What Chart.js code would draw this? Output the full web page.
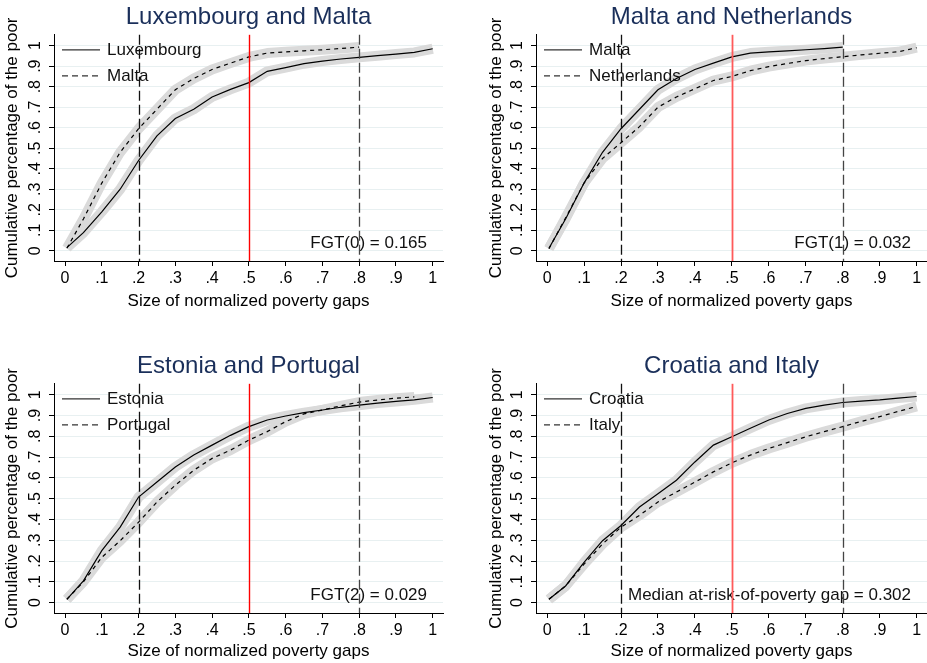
<!DOCTYPE html>
<html>
<head>
<meta charset="utf-8">
<script src="https://cdn.jsdelivr.net/npm/chart.js@4.4.1/dist/chart.umd.min.js"></script>
<style>
  html, body { margin: 0; padding: 0; background: #fff; }
  #wrap { position: relative; width: 927px; height: 663px; overflow: hidden; }
  .panel { position: absolute; }
</style>
</head>
<body>
<div id="wrap">
  <div class="panel" style="left:0;top:0"><canvas id="c1" width="464" height="320"></canvas></div>
  <div class="panel" style="left:464px;top:0"><canvas id="c2" width="463" height="320"></canvas></div>
  <div class="panel" style="left:0;top:330px"><canvas id="c3" width="464" height="333"></canvas></div>
  <div class="panel" style="left:464px;top:330px"><canvas id="c4" width="463" height="333"></canvas></div>
</div>
<script>
  // normalized poverty gap grid (x) shared by all curves
  const gapsX = [0.005, 0.05, 0.1, 0.15, 0.2, 0.25, 0.3, 0.35, 0.4, 0.45, 0.5,
    0.55, 0.6, 0.65, 0.7, 0.75, 0.8, 0.85, 0.9, 0.95, 1.0];

  // cumulative share of the poor
  const luxembourg = [0.015, 0.088, 0.19, 0.30, 0.44, 0.56, 0.645, 0.69, 0.75, 0.787, 0.82,
    0.875, 0.893, 0.912, 0.925, 0.935, 0.943, 0.951, 0.959, 0.967, 0.985];
  const malta = [0.012, 0.155, 0.33, 0.48, 0.595, 0.69, 0.785, 0.84, 0.884, 0.915, 0.945,
    0.964, 0.97, 0.975, 0.98, 0.986, 0.993, null, null, null, null];
  const netherlands = [0.01, 0.16, 0.33, 0.45, 0.527, 0.605, 0.7, 0.75, 0.79, 0.83, 0.85,
    0.878, 0.898, 0.913, 0.927, 0.937, 0.946, 0.955, 0.963, 0.97, 0.99];
  const estonia = [0.016, 0.105, 0.25, 0.363, 0.508, 0.58, 0.653, 0.71, 0.758, 0.805, 0.847,
    0.879, 0.898, 0.914, 0.927, 0.94, 0.95, 0.96, 0.968, 0.976, 0.987];
  const portugal = [0.016, 0.1, 0.218, 0.298, 0.387, 0.484, 0.565, 0.637, 0.694, 0.734, 0.782,
    0.823, 0.871, 0.908, 0.927, 0.947, 0.965, 0.975, 0.984, 0.99, null];
  const croatia = [0.016, 0.08, 0.194, 0.298, 0.371, 0.46, 0.524, 0.589, 0.677, 0.758, 0.798,
    0.839, 0.879, 0.91, 0.935, 0.95, 0.963, 0.97, 0.976, 0.984, 0.992];
  const italy = [0.016, 0.08, 0.185, 0.282, 0.363, 0.42, 0.484, 0.532, 0.58, 0.629, 0.673,
    0.71, 0.742, 0.77, 0.798, 0.823, 0.847, 0.872, 0.895, 0.92, 0.944];

  const tickValues = [0, 0.1, 0.2, 0.3, 0.4, 0.5, 0.6, 0.7, 0.8, 0.9, 1];
  const tickLabels = ["0", ".1", ".2", ".3", ".4", ".5", ".6", ".7", ".8", ".9", "1"];
  const refGaps = [0.2, 0.5, 0.8];

  const panelTitles = ["Luxembourg and Malta", "Malta and Netherlands", "Estonia and Portugal", "Croatia and Italy"];
  const panelNotes = ["FGT(0) = 0.165", "FGT(1) = 0.032", "FGT(2) = 0.029", "Median at-risk-of-poverty gap = 0.302"];
  const xTitle = "Size of normalized poverty gaps";
  const yTitle = "Cumulative percentage of the poor";

  const FONT = '"Liberation Sans", Arial, sans-serif';
  Chart.defaults.font.family = FONT;
  Chart.defaults.color = "#000";

  function toPoints(series) {
    return gapsX
      .map((x, i) => ({ x, y: series[i] }))
      .filter((p) => p.y !== null);
  }

  const overlayPlugin = {
    id: "overlay",
    afterDatasetsDraw(chart, args, opts) {
      const { ctx, chartArea: a } = chart;
      const x = chart.scales.x;
      ctx.save();

      // legend inside the plot
      opts.names.forEach((name, i) => {
        const y = a.top + 15 + i * 26;
        ctx.strokeStyle = "#333";
        ctx.lineWidth = 1.3;
        ctx.setLineDash(i ? [6, 4] : []);
        ctx.beginPath();
        ctx.moveTo(a.left + 8, y);
        ctx.lineTo(a.left + 46, y);
        ctx.stroke();
        ctx.setLineDash([]);
        ctx.fillStyle = "#111";
        ctx.font = "17px " + FONT;
        ctx.textAlign = "left";
        ctx.textBaseline = "middle";
        ctx.fillText(name, a.left + 53, y + 1);
      });

      ctx.textAlign = "right";
      ctx.fillText(opts.note, a.right - 16, a.bottom - 18);

      // reference lines
      refGaps.forEach((g, i) => {
        const px = Math.round(x.getPixelForValue(g)) + 0.5;
        ctx.beginPath();
        if (i === 1) {
          ctx.strokeStyle = opts.redColor;
          ctx.lineWidth = opts.redWidth;
          ctx.setLineDash([]);
        } else {
          ctx.strokeStyle = i === 0 ? "#111" : "#444";
          ctx.lineWidth = 1.3;
          ctx.setLineDash([10, 4]);
        }
        ctx.moveTo(px, a.top);
        ctx.lineTo(px, a.bottom);
        ctx.stroke();
      });
      ctx.restore();
    }
  };

  function renderPanel(id, p) {
    const canvas = document.getElementById(id);
    const band = {
      borderColor: "#dadada", borderWidth: 10, pointRadius: 0, tension: 0,
      borderCapStyle: "butt", borderJoinStyle: "round", order: 1
    };
    new Chart(canvas, {
      type: "line",
      data: {
        datasets: [
          { data: toPoints(p.a), borderColor: "#000", borderWidth: 1.2, pointRadius: 0, tension: 0, order: 0 },
          { data: toPoints(p.b), borderColor: "#000", borderWidth: 1.2, borderDash: [4, 4], pointRadius: 0, tension: 0, order: 0 },
          { data: toPoints(p.a), ...band },
          { data: toPoints(p.b), ...band }
        ]
      },
      options: {
        responsive: false,
        animation: false,
        events: [],
        layout: { padding: { left: 0, right: p.padRight, top: 0, bottom: 0 } },
        plugins: {
          legend: { display: false },
          tooltip: { enabled: false },
          title: {
            display: true,
            text: p.title,
            fullSize: false,
            color: "#1a2f5a",
            font: { size: 24, weight: "normal", family: FONT },
            padding: { top: p.titleTop, bottom: p.titleBottom }
          },
          overlay: { names: p.names, note: p.note, redColor: p.redColor, redWidth: p.redWidth }
        },
        scales: {
          x: {
            type: "linear",
            min: -0.03,
            max: 1.028,
            afterBuildTicks: (s) => { s.ticks = tickValues.map((v) => ({ value: v })); },
            afterFit: (s) => { s.height = p.xAxisHeight; },
            ticks: {
              autoSkip: false, maxRotation: 0, minRotation: 0, padding: 3,
              font: { size: 16 }, color: "#000",
              callback: (v, i) => tickLabels[i]
            },
            grid: { drawOnChartArea: false, tickColor: "#000", tickLength: 5 },
            border: { color: "#000", width: 1 },
            title: {
              display: true, text: xTitle, color: "#000",
              font: { size: 17 }, padding: { top: 0, bottom: p.xTitlePad }
            }
          },
          y: {
            min: -0.05,
            max: 1.053,
            afterBuildTicks: (s) => { s.ticks = tickValues.map((v) => ({ value: v })); },
            afterFit: (s) => { s.width = p.yAxisWidth; },
            ticks: {
              autoSkip: false, minRotation: 90, maxRotation: 90, crossAlign: "center",
              padding: 7, font: { size: 16 }, color: "#000",
              callback: (v, i) => tickLabels[i]
            },
            grid: { color: "#e8f0f1", tickColor: "#000", tickLength: 5 },
            border: { color: "#000", width: 1 },
            title: {
              display: true, text: yTitle, color: "#000",
              font: { size: 17 }, padding: { top: p.yTitlePad, bottom: 0 }
            }
          }
        }
      },
      plugins: [overlayPlugin]
    });
  }

  renderPanel("c1", {
    title: panelTitles[0], note: panelNotes[0], names: ["Luxembourg", "Malta"],
    a: luxembourg, b: malta, padRight: 21, yAxisWidth: 54, yTitlePad: 2,
    xAxisHeight: 59, xTitlePad: 8, titleTop: 3, titleBottom: 3,
    redColor: "#ff0000", redWidth: 1.4
  });
  renderPanel("c2", {
    title: panelTitles[1], note: panelNotes[1], names: ["Malta", "Netherlands"],
    a: malta, b: netherlands, padRight: 0, yAxisWidth: 72, yTitlePad: 22,
    xAxisHeight: 59, xTitlePad: 8, titleTop: 3, titleBottom: 3,
    redColor: "#ff5a5a", redWidth: 1.8
  });
  renderPanel("c3", {
    title: panelTitles[2], note: panelNotes[2], names: ["Estonia", "Portugal"],
    a: estonia, b: portugal, padRight: 21, yAxisWidth: 54, yTitlePad: 2,
    xAxisHeight: 50, xTitlePad: 1, titleTop: 22, titleBottom: 3,
    redColor: "#ff0000", redWidth: 1.4
  });
  renderPanel("c4", {
    title: panelTitles[3], note: panelNotes[3], names: ["Croatia", "Italy"],
    a: croatia, b: italy, padRight: 0, yAxisWidth: 72, yTitlePad: 22,
    xAxisHeight: 50, xTitlePad: 1, titleTop: 22, titleBottom: 3,
    redColor: "#ff5a5a", redWidth: 1.8
  });
</script>
</body>
</html>
